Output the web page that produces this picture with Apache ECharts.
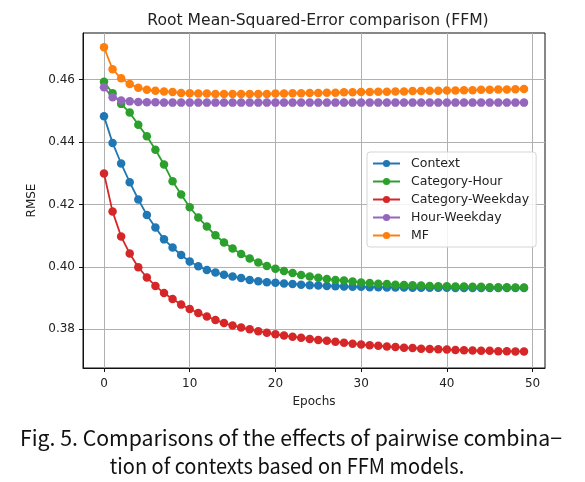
<!DOCTYPE html>
<html>
<head>
<meta charset="utf-8">
<script src="https://cdn.jsdelivr.net/npm/echarts@6/dist/echarts.min.js"></script>
<style>
html,body{margin:0;padding:0;background:#fff;}
#chart{width:585px;height:482px;}
</style>
</head>
<body>
<div id="chart"></div>
<script>
const epochs = [0,1,2,3,4,5,6,7,8,9,10,11,12,13,14,15,16,17,18,19,20,21,22,23,24,25,26,27,28,29,30,31,32,33,34,35,36,37,38,39,40,41,42,43,44,45,46,47,48,49];

const context = [0.4482,0.4397,0.4331,0.4271,0.4216,0.4166,0.4126,0.4088,0.4062,0.4038,
  0.4017,0.4002,0.3990,0.3982,0.3975,0.3969,0.3964,0.3958,0.3954,0.3951,
  0.3949,0.3947,0.3945,0.3943,0.3941,0.3940,0.3939,0.3938,0.3937,0.3936,
  0.3936,0.3935,0.3935,0.3934,0.3934,0.3934,0.3933,0.3933,0.3933,0.3933,
  0.3933,0.3932,0.3932,0.3932,0.3932,0.3932,0.3932,0.3932,0.3932,0.3932];

const categoryHour = [0.4593,0.4556,0.4522,0.4494,0.4455,0.4418,0.4375,0.4328,0.4274,0.4232,
  0.4191,0.4158,0.4129,0.4101,0.4078,0.4059,0.4041,0.4027,0.4014,0.4003,
  0.3994,0.3987,0.3980,0.3974,0.3969,0.3965,0.3961,0.3958,0.3956,0.3953,
  0.3950,0.3948,0.3946,0.3945,0.3943,0.3942,0.3941,0.3940,0.3939,0.3938,
  0.3938,0.3937,0.3937,0.3936,0.3936,0.3935,0.3935,0.3935,0.3934,0.3934];

const categoryWeekday = [0.4299,0.4177,0.4097,0.4043,0.3999,0.3966,0.3939,0.3916,0.3897,0.3879,
  0.3865,0.3852,0.3841,0.3830,0.3820,0.3812,0.3806,0.3800,0.3794,0.3789,
  0.3784,0.3780,0.3776,0.3773,0.3769,0.3766,0.3763,0.3760,0.3757,0.3754,
  0.3751,0.3749,0.3747,0.3745,0.3743,0.3741,0.3740,0.3738,0.3737,0.3736,
  0.3735,0.3734,0.3733,0.3732,0.3731,0.3731,0.3730,0.3730,0.3729,0.3729];

const hourWeekday = [0.4575,0.4543,0.4533,0.4530,0.4528,0.4527,0.4527,0.4526,0.4526,0.4526,
  0.4526,0.4526,0.4526,0.4526,0.4526,0.4526,0.4526,0.4526,0.4526,0.4526,
  0.4526,0.4526,0.4526,0.4526,0.4526,0.4526,0.4526,0.4526,0.4526,0.4526,
  0.4526,0.4526,0.4526,0.4526,0.4526,0.4526,0.4526,0.4526,0.4526,0.4526,
  0.4526,0.4526,0.4526,0.4526,0.4526,0.4526,0.4526,0.4526,0.4526,0.4526];

const mf = [0.4703,0.4633,0.4604,0.4586,0.4574,0.4567,0.4564,0.4562,0.4560,0.4557,
  0.4556,0.4555,0.4555,0.4554,0.4554,0.4554,0.4554,0.4554,0.4554,0.4554,
  0.4555,0.4555,0.4556,0.4556,0.4557,0.4557,0.4558,0.4558,0.4559,0.4559,
  0.4560,0.4560,0.4561,0.4561,0.4562,0.4562,0.4563,0.4563,0.4564,0.4564,
  0.4565,0.4565,0.4566,0.4566,0.4567,0.4567,0.4568,0.4568,0.4569,0.4570];

const seriesNames = ['Context','Category-Hour','Category-Weekday','Hour-Weekday','MF'];
const seriesColors = ['#1f77b4','#2ca02c','#d62728','#9467bd','#ff7f0e'];
const seriesValues = [context, categoryHour, categoryWeekday, hourWeekday, mf];

const xTickLabels = ['0','10','20','30','40','50'];
const yTickLabels = ['0.38','0.40','0.42','0.44','0.46'];

const titleText = 'Root Mean-Squared-Error comparison (FFM)';
const xName = 'Epochs';
const yName = 'RMSE';
const captionLines = ['Fig. 5. Comparisons of the effects of pairwise combina\u2212', 'tion of contexts based on FFM models.'];

const FONT = 'DejaVu Sans';
const CAP_FONT = '21px "Noto Sans CJK KR"';

function near(v, arr) {
  for (const s of arr) { if (Math.abs(v - parseFloat(s)) < 1e-6) return s; }
  return '';
}

const chart = echarts.init(document.getElementById('chart'), null, {renderer: 'canvas'});

const option = {
  animation: false,
  backgroundColor: '#fff',
  title: {
    text: titleText,
    left: 313, top: 8, textAlign: 'center',
    textStyle: {fontFamily: FONT, fontSize: 15.6, fontWeight: 'normal', color: '#222'}
  },
  grid: {left: 83, right: 40, top: 33, bottom: 114, show: true, borderColor: '#111', borderWidth: 1, backgroundColor: 'transparent'},
  legend: {
    orient: 'vertical', left: 367, top: 152,
    data: seriesNames,
    itemWidth: 27, itemHeight: 9, itemGap: 5,
    padding: [5, 7, 5, 5],
    backgroundColor: 'rgba(255,255,255,0.85)', borderColor: '#d5d5d5', borderWidth: 1, borderRadius: 3,
    textStyle: {fontFamily: FONT, fontSize: 12.5, color: '#222', padding: [0,0,0,6]}
  },
  xAxis: {
    type: 'value', min: -2.45, max: 51.45, splitNumber: 5,
    name: xName, nameLocation: 'middle', nameGap: 28,
    nameTextStyle: {fontFamily: FONT, fontSize: 12, color: '#222'},
    axisLine: {show: true, onZero: false, lineStyle: {color: '#111', width: 1}},
    axisTick: {show: true, length: 4, lineStyle: {color: '#111'}, customValues: xTickLabels.map(Number)},
    axisLabel: {fontFamily: FONT, fontSize: 12, color: '#222', margin: 10, formatter: v => near(v, xTickLabels)},
    splitLine: {show: true, lineStyle: {color: '#b0b0b0', width: 1}}
  },
  yAxis: {
    type: 'value', min: 0.3676, max: 0.4749, splitNumber: 5,
    name: yName, nameLocation: 'middle', nameGap: 42, nameRotate: 90,
    nameTextStyle: {fontFamily: FONT, fontSize: 12, color: '#222'},
    axisLine: {show: true, onZero: false, lineStyle: {color: '#111', width: 1}},
    axisTick: {show: true, length: 4, lineStyle: {color: '#111'}, customValues: yTickLabels.map(Number)},
    axisLabel: {fontFamily: FONT, fontSize: 12, color: '#222', margin: 8, formatter: v => near(v, yTickLabels)},
    splitLine: {show: true, lineStyle: {color: '#b0b0b0', width: 1}}
  },
  series: seriesNames.map((name, i) => ({
    name: name,
    type: 'line',
    data: epochs.map((e, k) => [e, seriesValues[i][k]]),
    symbol: 'circle', symbolSize: 8.5,
    showAllSymbol: true,
    lineStyle: {color: seriesColors[i], width: 1.8},
    itemStyle: {color: seriesColors[i], borderWidth: 0},
    emphasis: {disabled: true}
  })),
  graphic: [
    {type: 'text', x: 291, y: 438, scaleX: 1.012, style: {text: captionLines[0], font: CAP_FONT, fill: '#111', textAlign: 'center', textVerticalAlign: 'middle'}},
    {type: 'text', x: 287, y: 466, scaleX: 0.952, style: {text: captionLines[1], font: CAP_FONT, fill: '#111', textAlign: 'center', textVerticalAlign: 'middle'}}
  ]
};
chart.setOption(option);
</script>
</body>
</html>
